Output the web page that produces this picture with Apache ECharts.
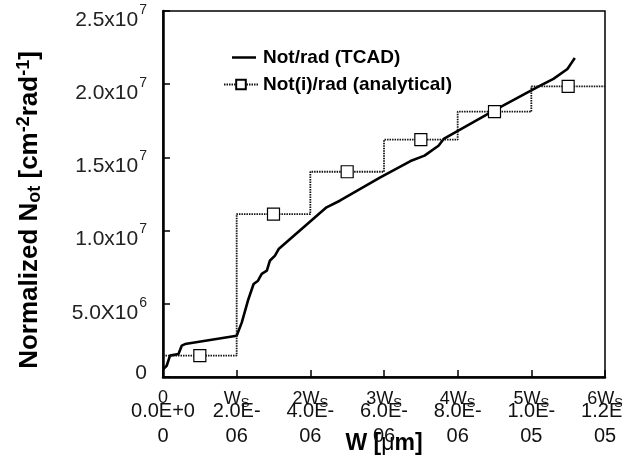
<!DOCTYPE html>
<html><head><meta charset="utf-8">
<script src="https://cdn.jsdelivr.net/npm/echarts@6/dist/echarts.min.js"></script>
<style>html,body{margin:0;padding:0;background:#fff}#c{width:622px;height:463px}</style>
</head><body><div id="c"></div>
<script>
// TCAD curve: x in units of W_S, y in cm^-2 rad^-1
const tcadX = [0.004,0.05,0.095,0.21,0.254,0.30,1.0,1.07,1.16,1.23,1.29,1.34,1.41,1.45,1.52,1.57,2.22,2.40,2.95,3.36,3.55,3.74,3.81,4.49,5.12,5.30,5.49,5.55,5.59];
const tcadY = [0.55e6,0.77e6,1.46e6,1.57e6,2.14e6,2.25e6,2.82e6,3.73e6,5.33e6,6.35e6,6.58e6,7.04e6,7.26e6,7.94e6,8.29e6,8.74e6,11.59e6,12.04e6,13.64e6,14.75e6,15.12e6,15.8e6,16.26e6,18.19e6,19.9e6,20.36e6,21.04e6,21.49e6,21.79e6];
// Analytical step levels per W_S segment
const stepLevels = [1.46e6,11.13e6,14.02e6,16.21e6,18.12e6,19.85e6];
// Axis tick labels
const xTicksW = ['0','W','2W','3W','4W','5W','6W'];
const xTicksE = ['0.0E+0\n0','2.0E-\n06','4.0E-\n06','6.0E-\n06','8.0E-\n06','1.0E-\n05','1.2E-\n05'];
const yTickMant = ['0','5.0X10','1.0x10','1.5x10','2.0x10','2.5x10'];
const yTickExp = ['','6','7','7','7','7'];

const tcadData = tcadX.map((x,i)=>[x,tcadY[i]]);
const stepData = [];
stepLevels.forEach((v,i)=>{
  stepData.push({value:[i,v],symbol:'none'});
  stepData.push({value:[i+0.5,v]});
});
stepData.push({value:[6,stepLevels[5]],symbol:'none'});

const FF = 'Liberation Sans, Arial, sans-serif';
const lineIcon = 'path://M0,0L0.01,0L0,0.01Z M6,4.8L30,4.8L30,7.2L6,7.2Z M30,12L29.99,12L30,11.99Z';
const chart = echarts.init(document.getElementById('c'));
chart.setOption({
  animation:false,
  backgroundColor:'#fff',
  grid:{left:163,right:17,top:11,bottom:86,show:true,borderColor:'#000',borderWidth:1.5,
        containLabel:false,outerBoundsMode:'none'},
  legend:{
    left:218, top:43, orient:'vertical', itemWidth:34, itemHeight:12, itemGap:8,
    textStyle:{fontFamily:FF,fontSize:19,fontWeight:'bold',color:'#000'},
    data:[{name:'Not/rad (TCAD)',icon:lineIcon},'Not(i)/rad (analytical)']
  },
  xAxis:[{
    type:'value',min:0,max:6,interval:1,position:'bottom',
    axisLine:{lineStyle:{color:'#000',width:2.5}},
    axisTick:{inside:true,length:7,lineStyle:{color:'#000',width:1.5}},
    splitLine:{show:false},
    axisLabel:{margin:22,fontFamily:FF,fontSize:20,color:'#111',lineHeight:25,
      formatter:(v)=>xTicksE[Math.round(v)]},
    name:'W [{mu|μ}m]',nameLocation:'middle',nameGap:55,nameMoveOverlap:false,
    nameTextStyle:{fontFamily:FF,fontSize:23,fontWeight:'bold',color:'#000',
      rich:{mu:{fontFamily:FF,fontSize:23,fontWeight:'normal',color:'#000'}}}
  },{
    type:'value',min:0,max:6,interval:1,position:'bottom',offset:0,
    axisLine:{show:false},axisTick:{show:false},splitLine:{show:false},
    axisLabel:{margin:12,fontFamily:FF,fontSize:18,color:'#111',
      formatter:(v)=>{const i=Math.round(v); return i===0?'0':xTicksW[i]+'{s|S}';},
      rich:{s:{fontFamily:FF,fontSize:13,color:'#111',padding:[8,0,0,0]}}}
  }],
  yAxis:{
    type:'value',min:0,max:2.5e7,interval:5e6,
    axisLine:{lineStyle:{color:'#000',width:2.5}},
    axisTick:{inside:true,length:7,lineStyle:{color:'#000',width:1.5}},
    splitLine:{show:false},
    axisLabel:{margin:16,fontFamily:FF,fontSize:21,color:'#222',
      formatter:(v)=>{const i=Math.round(v/5e6); return i===0?'{z|0}':'{b|'+yTickMant[i]+'}{e|'+yTickExp[i]+'}';},
      rich:{
        z:{fontFamily:FF,fontSize:21,color:'#222',padding:[0,0,8,0]},
        b:{fontFamily:FF,fontSize:21,color:'#222',padding:[18,0,0,0]},
        e:{fontFamily:FF,fontSize:14,color:'#222',padding:[0,0,2,1]}
      }},
    name:'Normalized N{sub|ot} [cm{sup|-2}rad{sup|-1}]',nameLocation:'middle',nameGap:119,nameMoveOverlap:false,
    nameTextStyle:{fontFamily:FF,fontSize:26,fontWeight:'bold',color:'#000',padding:[0,32,0,0],
      rich:{
        sub:{fontFamily:FF,fontSize:18,fontWeight:'bold',color:'#000',padding:[11,0,0,0]},
        sup:{fontFamily:FF,fontSize:18,fontWeight:'bold',color:'#000',padding:[0,0,11,0]}
      }}
  },
  series:[{
    name:'Not/rad (TCAD)',type:'line',data:tcadData,showSymbol:false,symbol:'none',
    lineStyle:{color:'#000',width:2.6},itemStyle:{color:'#000'},z:2
  },{
    name:'Not(i)/rad (analytical)',type:'line',data:stepData,step:'end',
    symbol:'rect',symbolSize:12,
    lineStyle:{color:'#111',width:1.8,type:[1.5,1]},
    itemStyle:{color:'#fff',borderColor:'#000',borderWidth:1.2},z:3
  }]
});
</script></body></html>
